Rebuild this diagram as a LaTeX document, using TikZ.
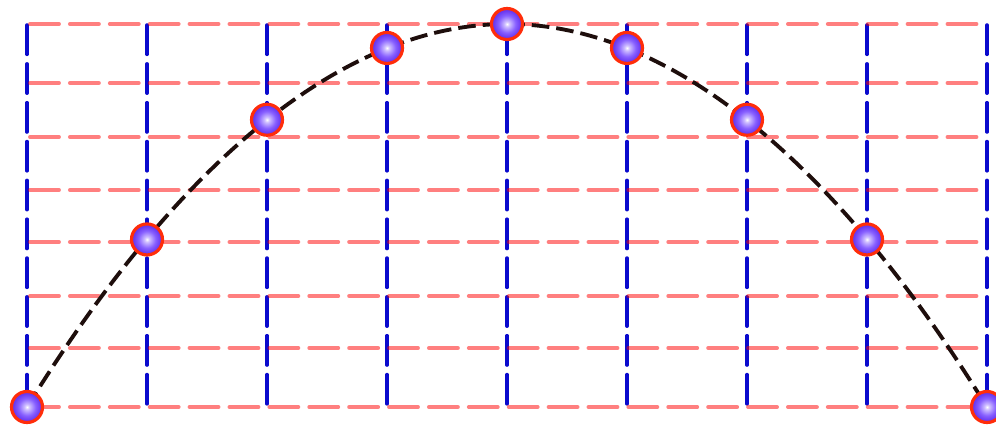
\documentclass[tikz,border=0pt]{standalone}
\usetikzlibrary{backgrounds}

\definecolor{bleufonce}{RGB}{10,10,205}
\definecolor{noirbrun}{RGB}{30,14,12}
\definecolor{rougevif}{RGB}{255,45,10}
\definecolor{violetboule}{RGB}{135,95,255}
\definecolor{violetbord}{RGB}{105,55,240}

\pgfdeclareradialshading{boule}{\pgfpoint{0bp}{0bp}}{%
    color(0bp)=(white); color(4bp)=(white!60!violetboule);
    color(14bp)=(violetboule); color(22bp)=(violetbord); color(50bp)=(violetbord)}

\begin{document}
\begin{tikzpicture}[>=stealth]
        % --- Définition des styles ---
        \tikzset{
            grille_h/.style={draw=red, opacity=0.5, line width=2.2pt, line cap=round, dash pattern=on 16.5pt off 6.2pt},
            grille_v/.style={draw=bleufonce, line width=2pt, line cap=round, dash pattern=on 16.7pt off 5.4pt},
            courbe/.style={draw=noirbrun, line width=2.2pt, dash pattern=on 10pt off 4pt},
            pt_boule/.style={circle, draw=rougevif, line width=1.8pt, minimum size=0.62cm, inner sep=0pt,
                shading=boule}
        }

        % Cadre de l'image
        \useasboundingbox (-0.54,-0.42) rectangle (19.38,8.14);

        % =====================================================================
        % POINTS DE LA PARABOLE
        % =====================================================================
        \foreach \i in {0,...,8} {
            \node[pt_boule] (p\i) at ({2.4*\i}, {7.66*(1-((\i-4)/4)^2)}) {};
        }

        % =====================================================================
        % GRILLE ET COURBE (en arrière-plan)
        % =====================================================================
        \begin{scope}[on background layer]
            % Verticales
            \foreach \i in {0,...,8} {
                \draw[grille_v] ({2.4*\i}, 7.64) -- ({2.4*\i}, 0.04);
            }
            % Horizontales
            \foreach \y in {0, 1.18, 2.22, 3.30, 4.34, 5.40, 6.48, 7.66} {
                \draw[grille_h] (0.06, \y) -- (19.2, \y);
            }
            % Parabole
            \draw[courbe] (p0.center) parabola bend (p4.center) (p8.center);
        \end{scope}

    \end{tikzpicture}
\end{document}
